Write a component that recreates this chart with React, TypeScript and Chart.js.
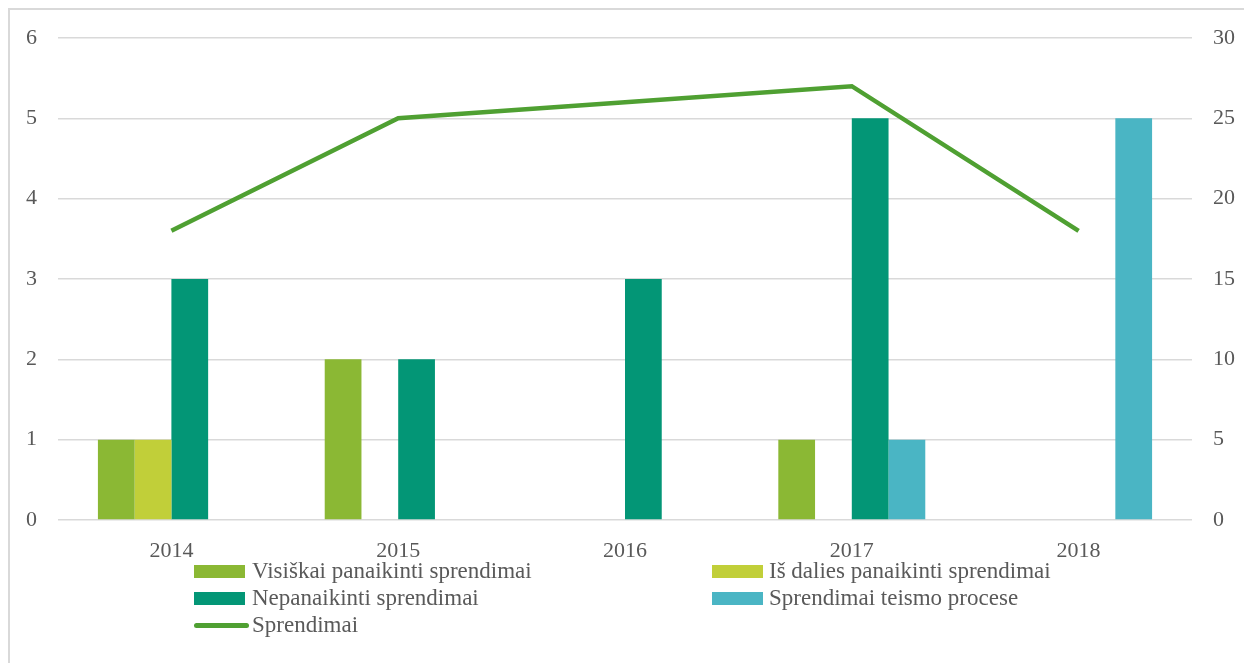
import React, { useEffect, useRef } from "react";
import { Chart, registerables } from "chart.js";

Chart.register(...registerables);

const categories = ["2014", "2015", "2016", "2017", "2018"];
const visiskai = [1, 2, 0, 1, 0];
const isDalies = [1, 0, 0, 0, 0];
const nepanaikinti = [3, 2, 3, 5, 0];
const teismoProcese = [0, 0, 0, 1, 5];
const sprendimai = [18, 25, 26, 27, 18];
const leftTicks = [0, 1, 2, 3, 4, 5, 6];
const rightTicks = [0, 5, 10, 15, 20, 25, 30];

const C_VIS = "#8bb834";
const C_DAL = "#c1cf39";
const C_NEP = "#039676";
const C_TEI = "#4ab5c4";
const C_LINE = "#4fa032";
const TEXT = "#595959";
const FONT = "'Liberation Serif', 'Times New Roman', serif";

const legendItems = [
  { label: "Visiškai panaikinti sprendimai", color: C_VIS, type: "bar", col: 0, row: 0 },
  { label: "Iš dalies panaikinti sprendimai", color: C_DAL, type: "bar", col: 1, row: 0 },
  { label: "Nepanaikinti sprendimai", color: C_NEP, type: "bar", col: 0, row: 1 },
  { label: "Sprendimai teismo procese", color: C_TEI, type: "bar", col: 1, row: 1 },
  { label: "Sprendimai", color: C_LINE, type: "line", col: 0, row: 2 },
];

export default function App() {
  const ref = useRef<HTMLCanvasElement | null>(null);

  useEffect(() => {
    if (!ref.current) return;
    const barCommon = {
      type: "bar" as const,
      yAxisID: "y",
      categoryPercentage: 0.648,
      barPercentage: 1,
      borderWidth: 0,
      order: 1,
    };
    const chart = new Chart(ref.current, {
      type: "bar",
      data: {
        labels: categories,
        datasets: [
          { ...barCommon, label: "Visiškai panaikinti sprendimai", data: visiskai, backgroundColor: C_VIS },
          { ...barCommon, label: "Iš dalies panaikinti sprendimai", data: isDalies, backgroundColor: C_DAL },
          { ...barCommon, label: "Nepanaikinti sprendimai", data: nepanaikinti, backgroundColor: C_NEP },
          { ...barCommon, label: "Sprendimai teismo procese", data: teismoProcese, backgroundColor: C_TEI },
          {
            type: "line" as const,
            label: "Sprendimai",
            data: sprendimai,
            yAxisID: "y1",
            borderColor: C_LINE,
            backgroundColor: C_LINE,
            borderWidth: 4.5,
            pointRadius: 0,
            tension: 0,
            order: 0,
          } as any,
        ],
      },
      options: {
        responsive: false,
        devicePixelRatio: 1,
        animation: false,
        layout: { padding: { top: 30, left: 0, right: 0, bottom: 0 } },
        plugins: { legend: { display: false }, tooltip: { enabled: false } },
        scales: {
          x: {
            grid: { display: false, drawTicks: false },
            border: { display: false },
            ticks: { color: TEXT, font: { family: FONT, size: 22 }, padding: 18 },
            afterFit: (s: any) => { s.height = 48; s.paddingLeft = 0; s.paddingRight = 0; },
          },
          y: {
            position: "left",
            min: 0,
            max: 6,
            afterBuildTicks: (s: any) => { s.ticks = leftTicks.map((v) => ({ value: v })); },
            grid: { color: "#d9d9d9", lineWidth: 1.5, drawTicks: false },
            border: { display: false },
            ticks: { color: TEXT, font: { family: FONT, size: 22 }, padding: 21 },
            afterFit: (s: any) => { s.width = 50; s.paddingTop = 0; s.paddingBottom = 0; },
          },
          y1: {
            position: "right",
            min: 0,
            max: 30,
            afterBuildTicks: (s: any) => { s.ticks = rightTicks.map((v) => ({ value: v })); },
            grid: { display: false, drawTicks: false },
            border: { display: false },
            ticks: { color: TEXT, font: { family: FONT, size: 22 }, padding: 21 },
            afterFit: (s: any) => { s.width = 52; s.paddingTop = 0; s.paddingBottom = 0; },
          },
        },
      } as any,
    });
    return () => chart.destroy();
  }, []);

  return (
    <div style={{ position: "relative", width: 1236, height: 655, fontFamily: FONT }}>
      <div
        style={{
          position: "absolute",
          left: 0,
          top: 0,
          right: 0,
          bottom: 0,
          borderTop: "2px solid #d9d9d9",
          borderLeft: "2px solid #d9d9d9",
        }}
      />
      <canvas ref={ref} width={1236} height={560} style={{ position: "absolute", left: 0, top: 0, width: 1236, height: 560 }} />
      {legendItems.map((it) => {
        const swLeft = it.col === 0 ? 186 : 704;
        const textLeft = it.col === 0 ? 244 : 761;
        const cy = [563, 590, 617][it.row];
        return (
          <React.Fragment key={it.label}>
            {it.type === "bar" ? (
              <div style={{ position: "absolute", left: swLeft, top: cy - 6.5, width: 51, height: 13, background: it.color }} />
            ) : (
              <div style={{ position: "absolute", left: swLeft, top: cy - 2.5, width: 55, height: 5, borderRadius: 2.5, background: it.color }} />
            )}
            <div
              style={{
                position: "absolute",
                left: textLeft,
                top: cy - 14,
                height: 28,
                lineHeight: "28px",
                fontSize: 23,
                color: TEXT,
                whiteSpace: "nowrap",
              }}
            >
              {it.label}
            </div>
          </React.Fragment>
        );
      })}
    </div>
  );
}
